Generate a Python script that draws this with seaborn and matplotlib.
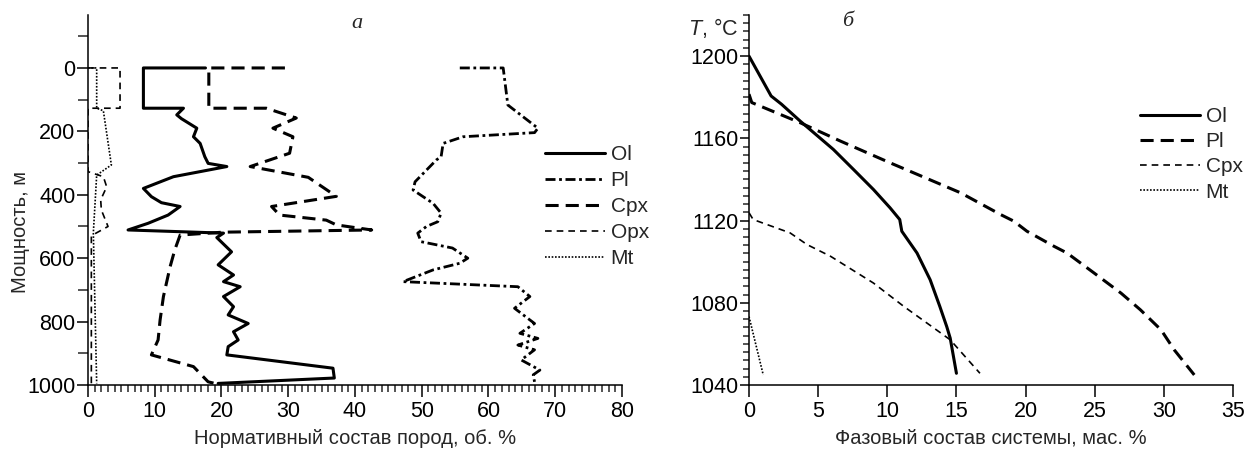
import numpy as np
import pandas as pd
import matplotlib
matplotlib.use("Agg")
import matplotlib.pyplot as plt
from matplotlib.ticker import MultipleLocator
import seaborn as sns

# ---- data: (a) normative composition vs depth ----
ol_x = [17.6, 8.3, 8.3, 14.3, 13.3, 14.0, 16.3, 15.8, 16.8, 17.5, 18.0, 20.8, 12.8, 8.3, 9.5, 11.0,
        13.8, 12.0, 9.0, 6.0, 20.3, 19.3, 21.5, 19.5, 21.8, 20.3, 22.8, 20.3, 21.8, 21.0, 24.0, 21.8,
        22.5, 21.0, 20.8, 36.7, 36.9, 19.5]
ol_d = [0, 0, 127, 127, 148, 160, 190, 217, 238, 280, 301, 311, 343, 380, 406, 425,
        437, 464, 490, 511, 521, 535, 580, 621, 653, 674, 690, 721, 753, 779, 806, 832,
        858, 879, 905, 947, 978, 995]

pl_x = [55.7, 62.2, 62.9, 67.4, 66.9, 56.2, 53.2, 52.9, 52.2, 49.0, 48.7, 51.7, 52.9, 52.4, 50.7,
        49.4, 49.9, 54.6, 56.9, 55.7, 51.7, 47.2, 64.4, 66.2, 63.9, 66.9, 64.7, 67.4, 64.4, 66.9,
        64.9, 67.7, 66.7, 66.9]
pl_d = [0, 0, 117, 190, 204, 217, 238, 280, 290, 359, 385, 427, 458, 485, 500,
        521, 548, 568, 600, 616, 637, 674, 690, 721, 758, 806, 837, 853, 874, 889,
        921, 953, 968, 990]

cpx_x = [29.5, 18.1, 18.1, 26.7, 31.2, 27.7, 30.7, 30.2, 24.3, 33.0, 37.2, 27.5, 28.7, 35.7, 37.2,
         42.5, 20.2, 13.8, 13.0, 12.3, 11.8, 11.3, 10.8, 10.5, 9.5, 15.8, 18.0, 19.4]
cpx_d = [0, 0, 127, 127, 158, 190, 217, 269, 311, 345, 405, 437, 464, 480, 495,
         511, 518, 527, 574, 627, 674, 721, 795, 858, 905, 942, 990, 997]

opx_x = [0.0, 4.8, 4.8, 0.0, 0.0, 2.3, 2.8, 1.9, 2.0, 3.0, 1.2, 0.5, 0.5]
opx_d = [0, 0, 127, 127, 327, 343, 375, 416, 448, 500, 521, 530, 1000]

mt_x = [0.0, 1.3, 1.3, 2.3, 3.5, 1.3, 0.8, 1.3]
mt_d = [0, 0, 127, 135, 306, 338, 520, 995]

# ---- data: (б) phase composition vs temperature ----
ol2_x = [0, 1.6, 2.35, 3.7, 6.1, 7.55, 9.0, 10.2, 10.9, 11.05, 12.15, 13.1, 13.8, 14.3, 14.55, 15.0]
ol2_t = [1200, 1180.6, 1176.6, 1168.4, 1154.6, 1144.9, 1135.1, 1126.2, 1120.5, 1114.8, 1104.2,
         1091.2, 1078.2, 1068.4, 1062.8, 1045.7]
pl2_x = [0, 0.2, 3.7, 6.6, 10.2, 15.3, 18.2, 19.15, 20.1, 22.05, 23.0, 24.95, 26.9, 28.3, 29.8,
         30.75, 32.2]
pl2_t = [1181.5, 1177.4, 1167.6, 1158.7, 1148.1, 1133.5, 1122.9, 1119.7, 1114.8, 1107.5, 1104.2,
         1094.5, 1084.7, 1076.6, 1066.8, 1057.1, 1044.9]
cpx2_x = [0, 0.3, 2.97, 4.2, 5.9, 9.0, 11.2, 14.55, 16.7]
cpx2_t = [1123.8, 1120.5, 1114.0, 1108.3, 1102.6, 1089.6, 1078.2, 1062.0, 1045.7]
mt2_x = [0, 1.03]
mt2_t = [1073.3, 1044.9]

sns.set_style("ticks")
plt.rcParams["font.family"] = ["Liberation Sans", "DejaVu Sans"]
plt.rcParams["mathtext.fontset"] = "custom"
plt.rcParams["mathtext.it"] = "Liberation Sans:italic"
plt.rcParams["mathtext.rm"] = "Liberation Sans"
TICK_FS = 15.5
LABEL_FS = 14.5
LEG_FS = 15

fig = plt.figure(figsize=(12.46, 4.51), dpi=100)
W, H = 1246, 451
ax1 = fig.add_axes([88 / W, 1 - 385 / H, (622 - 88) / W, (385 - 15) / H])
ax2 = fig.add_axes([749 / W, 1 - 385 / H, (1233 - 749) / W, (385 - 15) / H])

thick = 2.2
thin = 1.2
styles_a = [
    ("Ol", ol_x, ol_d, thick, "-"),
    ("Pl", pl_x, pl_d, 2.0, (0, (3.6, 1.3, 1.0, 1.3))),
    ("Cpx", cpx_x, cpx_d, thick, (0, (4.3, 2.3))),
    ("Opx", opx_x, opx_d, thin, (0, (4.0, 3.0))),
    ("Mt", mt_x, mt_d, thin, (0, (1.0, 1.0))),
]
for name, xs, ds, lw, ls in styles_a:
    sns.lineplot(x=xs, y=ds, sort=False, estimator=None, ax=ax1, color="black",
                 linewidth=lw, linestyle=ls, label=name, legend=False)

styles_b = [
    ("Ol", ol2_x, ol2_t, thick, "-"),
    ("Pl", pl2_x, pl2_t, thick, (0, (4.3, 2.3))),
    ("Cpx", cpx2_x, cpx2_t, thin, (0, (4.0, 3.0))),
    ("Mt", mt2_x, mt2_t, thin, (0, (1.0, 1.0))),
]
for name, xs, ts, lw, ls in styles_b:
    sns.lineplot(x=xs, y=ts, sort=False, estimator=None, ax=ax2, color="black",
                 linewidth=lw, linestyle=ls, label=name, legend=False)

# axes (a)
ax1.set_xlim(0, 80)
ax1.set_ylim(1000, -167)
ax1.set_yticks([0, 200, 400, 600, 800, 1000])
ax1.yaxis.set_minor_locator(MultipleLocator(100))
ax1.set_xticks(range(0, 81, 10))
ax1.xaxis.set_minor_locator(MultipleLocator(1))
ax1.tick_params(axis="y", which="major", length=8, width=1.1, labelsize=TICK_FS, pad=1)
ax1.tick_params(axis="y", which="minor", length=7, width=1.1)
ax1.tick_params(axis="x", which="major", length=8.5, width=1.1, labelsize=TICK_FS, pad=3)
ax1.tick_params(axis="x", which="minor", length=5, width=1.1)
ax1.set_xlabel("Нормативный состав пород, об. %", fontsize=LABEL_FS, labelpad=5)
ax1.set_ylabel("Мощность, м", fontsize=LABEL_FS)
ax1.yaxis.set_label_coords(-0.108, 0.414)

# axes (б)
ax2.set_xlim(0, 35)
ax2.set_ylim(1040, 1220)
ax2.set_xticks(range(0, 36, 5))
ax2.set_yticks([1040, 1080, 1120, 1160, 1200])
ax2.yaxis.set_minor_locator(MultipleLocator(4))
ax2.tick_params(axis="y", which="major", length=6.5, width=1.1, labelsize=TICK_FS, pad=1)
ax2.tick_params(axis="y", which="minor", length=4.3, width=1.1)
ax2.tick_params(axis="x", which="major", length=8.5, width=1.1, labelsize=TICK_FS, pad=3)
ax2.set_xlabel("Фазовый состав системы, мас. %", fontsize=LABEL_FS, labelpad=5)

for ax in (ax1, ax2):
    sns.despine(ax=ax)
    for s in ("left", "bottom"):
        ax.spines[s].set_linewidth(1.1)
        ax.spines[s].set_color("black")
    ax.tick_params(colors="black")

ax1.legend(loc="upper left", bbox_to_anchor=(545 / W, 1 - 145 / H), bbox_transform=fig.transFigure,
           frameon=False, fontsize=LEG_FS, handlelength=2.9, handletextpad=0.25,
           labelspacing=0.34, borderpad=0, borderaxespad=0)
ax2.legend(loc="upper left", bbox_to_anchor=(1140 / W, 1 - 107 / H), bbox_transform=fig.transFigure,
           frameon=False, fontsize=LEG_FS, handlelength=2.9, handletextpad=0.25,
           labelspacing=0.3, borderpad=0, borderaxespad=0)

fig.text(357 / W, 1 - 24 / H, "a", fontsize=16, family="Liberation Serif", style="italic",
         ha="center", va="center")
fig.text(848 / W, 1 - 22 / H, "б", fontsize=16, family="Liberation Serif", style="italic",
         ha="center", va="center")
fig.text(738 / W, 1 - 28 / H, "$T$, °C", fontsize=TICK_FS, ha="right", va="center")

fig.savefig("out.png", dpi=100)
